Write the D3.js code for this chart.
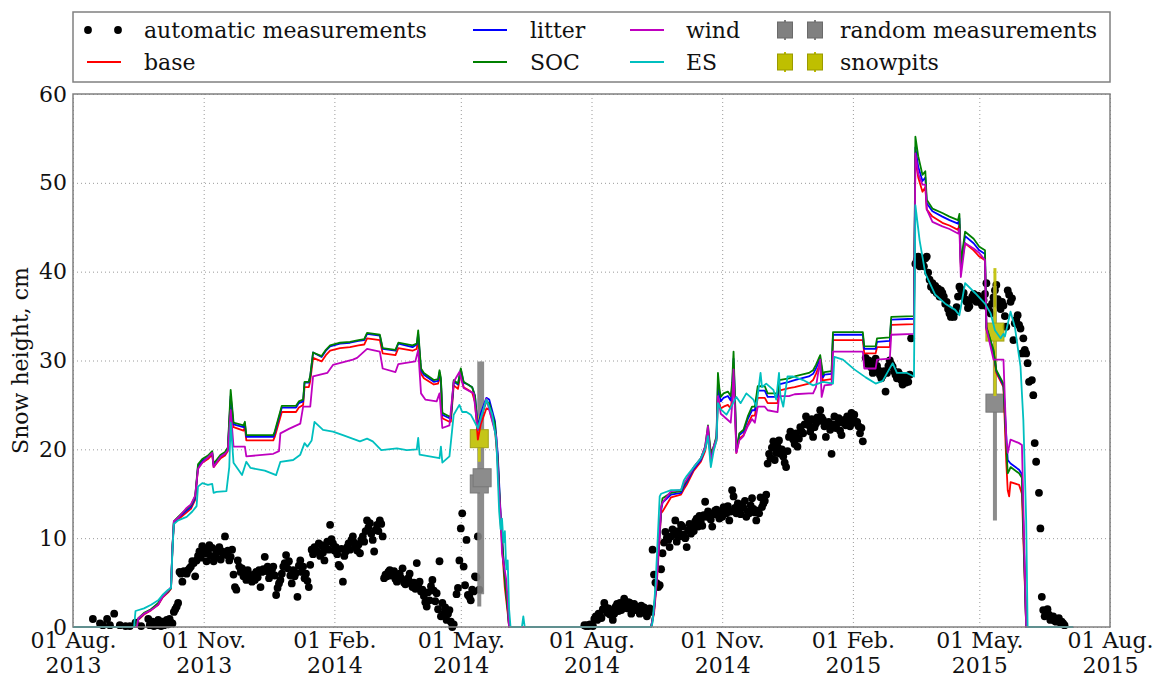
<!DOCTYPE html>
<html><head><meta charset="utf-8">
<script src="https://cdn.jsdelivr.net/npm/d3@7"></script>
<style>body{margin:0;background:#fff}</style>
</head><body><svg id="c" width="1155" height="678"></svg>
<script>
const _ = null;
// ---------- DATA ----------
const startDate = "2013-08-01";   // day 0 of all day offsets below
const xTickDates = ["2013-08-01","2013-11-01","2014-02-01","2014-05-01","2014-08-01","2014-11-01","2015-02-01","2015-05-01","2015-08-01"];
const xTickLabels = [["01 Aug.","2013"],["01 Nov.","2013"],["01 Feb.","2014"],["01 May.","2014"],["01 Aug.","2014"],["01 Nov.","2014"],["01 Feb.","2015"],["01 May.","2015"],["01 Aug.","2015"]];
const yTicks = [0,10,20,30,40,50,60];

// model runs: shared breakpoint days (offsets from startDate) for base / litter / SOC
const modelDays = [
 0,44,46,50,55,60,63,67,69,70, 71,74,80,83,86,88,91,95,98,99, 101,104,107,109,111,113,120,121,122,
 141,142,147,157,159,162,163,166,167,169, 175,178,181,188,195,201,205,207,216,218,
 227,229,239,242,243,245,247,254,257,258,259,260, 265,266,268,271,273,275,278,281,283,
 285,287,291,293,295,297,299,301,303,304, 306,307,
 407,409,411,414,415,421,428,430,432,437, 442,445,447,449,451,453,454,455,456,458,
 461,463,464,465,466,467,469,472,475,478, 480,482,487,489,496,497,504,508,518,521,
 523,526,528,529,534,535,556,557,565,566, 575,576,592,593,595,598,600,601,605,612,
 617,623,624,625,628,634,638,642,643,648, 650,655,657,658,659,660,666,668,671,704];
const base = [
 0,0,0.8,1.4,1.9,2.5,3.3,3.9,4.3,8.8, 11.7,12.1,12.9,13.3,14.3,17.9,18.5,18.9,19.4,18.0, 18.4,19.0,19.3,19.8,25.6,22.5,22.1,22.5,21.0,
 21.0,21.4,24.2,24.2,24.7,25.0,27.0,27.0,27.7,30.3, 29.9,30.6,31.1,31.4,31.5,31.7,31.8,32.5,32.3,30.8,
 30.6,31.4,31.1,31.3,32.6,28.5,28.0,27.3,27.4,28.3,27.5,23.5, 23.1,23.1,27.2,26.8,28.6,27.0,26.7,26.4,25.3,
 21.1,22.8,24.6,24.5,23.4,22.3,18.5,11.8,6.7,4.4, 1.6,0,
 0,1.5,5.0,12.8,13.0,14.6,14.9,15.5,16.0,17.6, 18.6,19.8,21.6,19.2,20.0,21.0,25.9,25.2,24.6,24.8,
 25.0,24.6,25.8,28.6,25.0,19.6,21.2,21.6,22.8,23.8, 23.8,25.8,25.8,25.2,25.2,26.6,26.9,27.0,27.4,27.8,
 28.5,29.7,27.6,27.8,27.9,32.3,32.3,30.8,30.8,31.5, 31.5,34.0,34.1,53.0,50.6,49.0,49.5,47.0,46.2,45.5,
 45.2,44.7,45.3,40.5,43.2,42.4,41.7,41.3,33.5,30.8, 28.6,27.0,18.5,15.4,14.7,16.3,16.0,15.0,0,0];
const litter = [
 0,0,0.9,1.5,2.0,2.6,3.4,4.0,4.4,8.9, 11.8,12.3,13.1,13.5,14.5,18.1,18.7,19.1,19.6,18.2, 18.6,19.2,19.5,20.0,26.0,22.8,22.5,22.9,21.4,
 21.4,21.8,24.7,24.7,25.2,25.4,27.5,27.5,28.2,30.9, 30.4,31.1,31.6,31.9,32.0,32.2,32.3,33.0,32.8,31.3,
 31.1,31.9,31.5,31.8,33.0,28.9,28.4,27.6,27.7,28.7,27.8,23.9, 23.5,23.5,27.6,27.3,29.0,27.5,27.3,27.0,26.0,
 22.5,24.0,25.8,25.6,24.4,23.2,19.5,12.8,7.8,5.6, 2.2,0,
 0,1.8,5.6,13.1,14.0,14.9,15.1,15.8,16.3,17.8, 18.8,20.1,22.2,19.4,20.2,21.3,27.5,26.2,25.4,25.8,
 26.0,25.5,26.8,30.2,25.6,19.8,21.6,22.0,23.4,24.4, 24.4,26.6,26.6,25.9,25.9,27.3,27.6,27.8,28.2,28.5,
 29.1,30.2,28.1,28.4,28.5,32.9,32.9,31.3,31.3,32.1, 32.2,34.6,34.7,54.0,51.8,50.2,50.6,47.7,46.8,46.2,
 45.8,45.4,46.0,40.8,44.0,43.2,42.4,42.0,33.7,31.0, 28.8,27.2,21.5,18.8,18.6,18.4,17.7,17.2,0,0];
const soc = [
 0,0,1.0,1.6,2.0,2.7,3.5,4.0,4.4,9.0, 11.9,12.4,13.3,13.7,14.7,18.3,18.9,19.3,19.8,18.4, 18.8,19.4,19.7,20.2,26.7,23.0,22.7,23.1,21.6,
 21.6,22.0,24.9,24.9,25.4,25.6,27.6,27.6,28.3,30.9, 30.5,31.2,31.7,32.0,32.1,32.3,32.4,33.1,32.9,31.4,
 31.2,32.0,31.7,31.9,33.4,29.1,28.6,27.8,27.9,28.9,28.0,24.1, 23.7,23.7,27.8,27.4,29.1,27.6,27.3,27.0,26.0,
 22.2,23.5,25.4,25.2,24.0,22.9,19.0,12.4,7.5,5.3, 2.0,0,
 0,2.0,6.0,13.4,14.5,15.1,15.3,16.0,16.5,18.0, 19.0,20.3,22.7,19.6,20.3,21.5,28.6,26.9,25.9,26.3,
 26.5,26.0,27.5,31.0,26.0,19.9,21.8,22.2,23.7,24.8, 24.8,27.1,27.1,26.3,26.3,27.8,28.0,28.2,28.6,28.9,
 29.5,30.6,28.4,28.7,28.8,33.2,33.2,31.6,31.6,32.5, 32.6,34.9,35.0,55.2,53.0,50.9,51.3,48.1,47.1,46.6,
 46.2,45.8,46.5,41.0,44.5,43.7,42.8,42.4,33.8,31.2, 28.9,27.4,20.3,17.3,17.6,18.0,17.3,16.8,0,0];

// wind run: [day, cm]
const wind = [
 [0,0],[45,0],[46,1.0],[50,1.5],[55,1.9],[60,2.5],[63,3.4],[67,4.1],[69,4.5],[70,9.0],
 [71,11.9],[74,12.3],[80,13.4],[83,13.8],[86,14.8],[88,17.8],[91,18.5],[95,19.1],[98,19.6],[99,18.0],
 [101,18.5],[104,19.2],[107,19.5],[109,19.9],[111,24.4],[113,20.3],[121,20.3],[122,19.2],
 [141,19.5],[145,19.8],[146,21.8],[152,22.3],[160,22.9],[162,24.8],[167,24.8],[169,28.2],[179,28.6],
 [183,29.5],[197,30.1],[200,30.3],[207,31.3],[216,31.0],[218,29.1],[227,28.7],[229,29.6],[241,29.9],[243,31.2],
 [245,26.3],[248,25.6],[256,25.4],[258,26.3],[260,22.4],[265,22.7],[268,27.6],[272,28.7],[275,26.9],[282,26.3],
 [285,22.2],[291,25.7],[298,21.4],[300,15.0],[301,12.8],[302,8.3],[305,5.3],[306,3.0],[307,0],
 [407,0],[409,1.8],[411,5.5],[414,13.5],[415,14.0],[421,15.3],[428,15.4],[430,16.2],[432,16.6],[437,18.0],
 [442,19.0],[445,20.3],[447,22.6],[449,18.5],[451,20.3],[453,21.2],[454,26.0],[455,25.0],[456,24.0],[461,23.3],
 [463,23.0],[464,25.0],[465,29.0],[466,24.0],[467,19.6],[469,21.0],[472,21.5],[475,22.6],[478,23.4],[480,23.0],
 [482,24.8],[487,24.8],[489,24.4],[496,24.2],[497,26.0],[504,26.0],[508,26.2],[518,26.3],[521,26.3],[523,27.0],
 [526,30.1],[527,25.9],[529,27.2],[534,27.3],[535,31.0],[556,31.0],[557,29.1],[565,29.1],[566,30.1],[575,30.2],
 [576,32.9],[592,33.0],[593,53.3],[595,51.0],[598,49.8],[600,49.8],[601,47.0],[605,45.6],[612,45.1],[617,44.8],
 [623,44.3],[624,44.8],[625,39.4],[628,43.2],[634,42.6],[638,42.1],[642,41.3],[643,33.6],[648,30.1],[655,30.1],
 [657,21.1],[658,19.6],[660,21.1],[666,20.7],[668,20.5],[671,0],[704,0]];

// ES run: [day, cm]
const es = [
 [0,0],[43,0],[44,1.8],[50,2.1],[55,2.5],[60,3.0],[63,3.6],[67,4.2],[69,4.4],[70,8.6],
 [71,11.6],[74,12.0],[80,12.4],[84,13.0],[87,13.6],[88,15.8],[91,16.2],[95,16.0],[98,16.1],[99,15.1],
 [101,15.2],[108,15.3],[110,18.0],[111,23.0],[113,18.5],[119,17.1],[122,18.6],[125,17.9],[135,17.6],[143,17.1],
 [146,18.6],[155,18.8],[160,19.4],[163,20.7],[165,20.3],[168,21.0],[170,23.1],[176,22.2],[183,22.0],[190,21.6],
 [202,20.9],[207,21.2],[211,20.9],[217,19.9],[228,20.1],[235,19.9],[242,20.0],[243,21.3],[244,19.4],[258,19.0],
 [259,20.3],[260,18.5],[265,19.2],[268,23.9],[272,25.0],[274,24.2],[277,24.2],[280,23.9],[285,22.4],[291,25.6],
 [295,24.0],[298,21.0],[300,13.0],[301,11.0],[302,12.2],[303,9.5],[304,10.8],[305,6.5],[306,7.5],[307,2.0],
 [308,0],[316,0],[317,1.2],[318,0],
 [407,0],[408,0.5],[410,4.5],[413,14.7],[414,15.0],[421,15.4],[428,15.4],[430,16.5],[432,17.0],[437,18.0],
 [442,19.0],[445,20.0],[447,21.5],[449,18.0],[451,19.8],[453,21.0],[454,25.2],[456,24.5],[460,23.9],[464,25.0],
 [467,25.9],[470,25.2],[474,26.3],[479,25.6],[481,24.8],[484,28.6],[485,27.0],[488,27.4],[493,26.7],[495,25.6],
 [497,28.6],[498,26.0],[500,24.8],[503,28.2],[507,28.2],[514,27.8],[521,27.2],[528,27.6],[535,27.4],[536,30.4],
 [542,30.1],[550,29.0],[558,28.1],[565,27.4],[570,27.7],[577,29.7],[580,28.6],[587,28.6],[592,28.2],[593,47.5],
 [596,43.5],[600,39.8],[607,37.4],[614,36.4],[621,35.7],[624,35.1],[628,38.7],[635,37.6],[642,36.4],[646,35.3],
 [649,33.4],[653,32.5],[655,33.0],[656,32.7],[660,35.5],[663,33.8],[667,29.3],[669,23.3],[671,12.0],[672,0],[704,0]];

// automatic measurements, daily values (cm), first value on day autoStart1 / autoStart2
const autoStart1 = 10;
const auto1 = [
/*10*/ _,_,_,_,0.9,_,_,_,_,0.4,
/*20*/ _,0.2,_,_,0.9,_,0.2,_,_,1.5,
/*30*/ _,_,_,0.2,_,_,_,0.1,_,_,
/*40*/ 0.1,_,_,_,0.5,_,_,_,0.1,_,
/*50*/ _,_,_,0.9,0.2,0.3,0.6,0.1,0.4,0.2,
/*60*/ 0.8,0.3,0.1,0.6,0.2,0.4,0.8,0.3,0.9,0.5,
/*70*/ 0.4,1.7,2.0,2.3,2.7,6.2,6.0,5.1,6.3,6.2,
/*80*/ 6.0,6.4,6.6,6.8,7.4,7.2,5.7,7.5,8.0,8.5,
/*90*/ 7.8,9.1,8.8,8.3,7.4,8.6,9.2,8.0,8.9,7.4,
/*100*/ 7.9,8.3,8.7,9.0,7.6,8.5,8.2,10.2,8.1,8.6,
/*110*/ 7.5,7.9,8.7,5.9,4.5,4.2,7.5,6.8,6.2,6.6,
/*120*/ 5.7,6.0,5.3,6.4,5.8,5.6,5.1,5.9,5.3,6.2,
/*130*/ 5.6,6.4,4.5,6.2,6.5,7.9,6.3,6.8,5.5,6.0,
/*140*/ 6.4,6.8,5.8,3.6,4.4,4.9,5.3,6.0,6.8,7.2,
/*150*/ 8.1,6.6,7.4,5.8,4.9,6.4,5.7,6.1,3.4,6.9,
/*160*/ 7.5,6.2,6.8,5.5,6.0,5.2,4.5,7.0,8.7,8.2,
/*170*/ 9.0,8.6,8.5,9.4,8.0,9.2,8.4,7.5,8.9,9.6,
/*180*/ 8.7,11.5,9.9,9.4,8.6,9.0,8.2,7.0,6.8,8.8,
/*190*/ 5.1,8.0,8.5,9.0,9.4,8.7,9.8,10.2,9.5,9.0,
/*200*/ 8.6,9.3,8.3,9.8,10.2,9.6,10.8,12.0,11.2,11.7,
/*210*/ 10.5,9.8,8.5,10.9,11.5,10.8,12.0,11.6,10.2,5.5,
/*220*/ 5.9,5.7,6.2,6.4,5.8,5.9,6.3,5.4,5.1,5.6,
/*230*/ 6.0,5.5,6.6,5.0,4.8,5.3,5.5,6.0,4.9,4.5,
/*240*/ 5.0,4.3,7.2,4.6,5.1,4.0,4.2,3.5,2.8,2.3,
/*250*/ 3.9,3.0,4.6,5.3,4.1,2.9,3.8,2.0,7.4,1.2,
/*260*/ 2.7,1.5,2.2,0.8,1.5,1.9,0.6,0.0,0.3,_,
/*270*/ 3.7,4.4,7.5,11.1,12.8,6.8,4.7,9.8,3.6,3.4,
/*280*/ 3.0,4.2,4.0,5.7,5.6,10.2,4.2];
const autoStart2 = 360;
const auto2 = [
/*360*/ 0.2,0.1,0.2,0.1,0.3,0.2,0.1,0.9,1.2,0.8,
/*370*/ 1.5,1.3,1.0,2.0,2.7,2.2,1.6,2.1,1.4,1.8,
/*380*/ 0.8,1.5,2.3,2.6,1.8,2.7,1.9,2.4,3.2,2.5,
/*390*/ 2.1,2.8,2.7,1.5,2.2,2.6,1.9,2.3,2.0,1.5,
/*400*/ 2.4,1.9,2.2,1.6,1.2,1.8,2.1,1.7,8.7,5.9,
/*410*/ 5.0,4.9,4.5,4.7,6.5,8.3,9.5,10.7,10.0,9.8,
/*420*/ 9.0,10.2,11.0,10.4,12.0,9.6,10.8,10.2,11.5,11.3,
/*430*/ 10.4,10.0,9.0,10.9,11.6,10.5,11.2,10.8,11.9,12.2,
/*440*/ 11.3,12.5,12.0,11.4,12.6,14.1,12.4,13.0,12.8,12.1,
/*450*/ 11.3,12.7,13.1,13.2,12.6,12.2,13.0,12.4,13.5,12.9,
/*460*/ 12.8,13.6,12.0,13.0,15.4,14.7,13.4,12.8,13.9,13.2,
/*470*/ 12.7,13.8,13.4,14.2,12.4,13.0,12.8,13.7,14.5,13.3,
/*480*/ 12.9,12.0,13.1,12.8,14.6,13.5,13.9,14.2,14.9,18.4,
/*490*/ 19.5,19.0,20.2,20.9,18.8,19.6,20.3,21.0,19.5,20.0,
/*500*/ 19.2,18.5,18.0,19.8,21.4,22.0,21.5,21.1,20.6,21.8,
/*510*/ 20.3,21.2,22.5,22.0,21.8,22.8,23.7,23.0,22.7,22.0,
/*520*/ 23.4,21.4,22.5,22.9,23.6,23.2,24.4,23.6,23.3,22.6,
/*530*/ 21.4,22.8,23.1,22.2,19.5,22.8,23.7,22.4,22.9,23.5,
/*540*/ 22.1,21.6,23.0,23.3,22.7,23.7,23.2,22.6,24.1,23.4,
/*550*/ 23.9,23.0,23.1,22.6,21.8,22.4,20.9,_,30.3,29.6,
/*560*/ 30.0,29.9,29.2,28.6,29.5,30.2,29.4,28.9,28.4,28.0,
/*570*/ 28.3,28.8,26.5,28.6,29.4,30.0,29.6,29.3,28.8,28.4,
/*580*/ 28.0,28.7,28.4,27.8,27.3,28.2,27.5,27.9,27.6,28.4,
/*590*/ 32.5,_,_,40.9,41.3,41.7,40.6,41.3,41.1,40.6,
/*600*/ 41.5,41.7,39.9,39.1,38.3,38.7,37.9,38.4,37.6,38.1,
/*610*/ 37.2,37.9,37.6,37.2,36.4,36.6,35.8,35.3,34.9,35.3,
/*620*/ 34.9,35.5,36.0,37.2,38.3,38.0,37.4,37.6,36.9,36.6,
/*630*/ 35.9,36.1,36.8,37.2,37.5,36.9,36.6,37.3,37.0,36.5,
/*640*/ 36.2,36.8,37.5,38.7,36.0,35.6,35.3,36.4,37.1,37.9,
/*650*/ 38.5,36.9,36.2,35.8,36.6,36.2,35.0,33.8,37.9,37.4,
/*660*/ 36.6,37.0,32.3,34.2,34.6,35.1,34.0,33.6,30.8,32.5,
/*670*/ 31.2,30.8,29.7,27.6,_,27.8,26.1,20.7,18.6,_,
/*680*/ 15.1,11.1,3.4,1.9,1.2,1.7,2.0,1.4,0.8,1.0,
/*690*/ 1.2,0.7,0.6,0.9,1.0,0.5,0.6,0.4,0.2];

// random measurements and snowpits: day, mean (cm), error (cm)
const randomDays = [286, 288, 649];
const randomCm   = [16.1, 16.8, 25.2];
const randomErr  = [13.8, 13.1, 13.2];
const pitDays = [286, 649];
const pitCm   = [21.2, 33.2];
const pitErr  = [2.6, 7.2];

const legendLabels = ["automatic measurements","base","litter","SOC","wind","ES","random measurements","snowpits"];

// ---------- DRAW ----------
const FONT = "'DejaVu Serif', serif";
const L = 73, R = 1110, T = 94, B = 627;
const t0 = new Date(startDate + "T00:00:00Z");
const day = d => d3.utcDay.offset(t0, d);
const x = d3.scaleUtc().domain([new Date(xTickDates[0]+"T00:00:00Z"), new Date(xTickDates[xTickDates.length-1]+"T00:00:00Z")]).range([L, R]);
const y = d3.scaleLinear().domain([0, 60]).range([B, T]);
const xTicks = xTickDates.map(s => new Date(s + "T00:00:00Z"));

const svg = d3.select("#c");
const COL = {base:"#ff0000", litter:"#0000ff", soc:"#008000", wind:"#bf00bf", es:"#00bfbf", gray:"#808080", pit:"#bfbf00"};

// grid
const gridX = svg.append("g").attr("transform", `translate(0,${B})`)
  .call(d3.axisBottom(x).tickValues(xTicks).tickSize(-(B - T)).tickFormat(""));
const gridY = svg.append("g").attr("transform", `translate(${L},0)`)
  .call(d3.axisLeft(y).tickValues(yTicks).tickSize(-(R - L)).tickFormat(""));
[gridX, gridY].forEach(g => {
  g.select(".domain").remove();
  g.selectAll(".tick line").attr("stroke", "#9a9a9a").attr("stroke-width", 1).attr("stroke-dasharray", "1,3");
});

// axis labels
const ax = svg.append("g").attr("transform", `translate(0,${B})`)
  .call(d3.axisBottom(x).tickValues(xTicks).tickSize(0).tickFormat(""));
ax.select(".domain").remove();
ax.selectAll(".tick text").each(function(d, i) {
  const t = d3.select(this).attr("dy", null).attr("y", null)
    .attr("font-family", FONT).attr("font-size", 22).attr("fill", "#111");
  t.append("tspan").attr("x", 0).attr("y", 21).text(xTickLabels[i][0]);
  t.append("tspan").attr("x", 0).attr("y", 46).text(xTickLabels[i][1]);
});
const ay = svg.append("g").attr("transform", `translate(${L},0)`)
  .call(d3.axisLeft(y).tickValues(yTicks).tickSize(0).tickPadding(6).tickFormat(d3.format("d")));
ay.select(".domain").remove();
ay.selectAll(".tick text").attr("font-family", FONT).attr("font-size", 22).attr("fill", "#111");

svg.append("text").attr("transform", `translate(28,${(T + B) / 2}) rotate(-90)`)
  .attr("text-anchor", "middle").attr("font-family", FONT).attr("font-size", 22).attr("fill", "#111")
  .text("Snow height, cm");

// automatic measurements
const autoPts = [];
auto1.forEach((v, i) => { if (v != null) autoPts.push([autoStart1 + i, v]); });
auto2.forEach((v, i) => { if (v != null) autoPts.push([autoStart2 + i, v]); });
svg.append("g").selectAll("circle").data(autoPts).join("circle")
  .attr("cx", d => x(day(d[0]))).attr("cy", d => y(d[1])).attr("r", 3.9).attr("fill", "#000");

// error-bar markers
function marker(g, dd, cm, err, color, edge) {
  const cx = x(day(dd));
  g.append("line").attr("x1", cx).attr("x2", cx).attr("y1", y(cm - err)).attr("y2", y(cm + err))
    .attr("stroke", color).attr("stroke-width", color === COL.gray ? 4 : 3);
  g.append("rect").attr("x", cx - 9).attr("y", y(cm) - 9).attr("width", 18).attr("height", 18)
    .attr("fill", color).attr("stroke", edge).attr("stroke-width", 1);
}
const mg = svg.append("g").attr("opacity", 0.9);
randomDays.forEach((d, i) => marker(mg, d, randomCm[i], randomErr[i], COL.gray, "#6a6a6a"));
pitDays.forEach((d, i) => marker(mg, d, pitCm[i], pitErr[i], COL.pit, "#9a9a00"));

// model lines
const line = d3.line().x(d => x(day(d[0]))).y(d => y(d[1]));
const zipDays = vals => modelDays.map((d, i) => [d, vals[i]]);
const series = [[zipDays(base), COL.base], [zipDays(litter), COL.litter], [zipDays(soc), COL.soc], [wind, COL.wind], [es, COL.es]];
series.forEach(([data, c]) => {
  svg.append("path").attr("d", line(data)).attr("fill", "none").attr("stroke", c)
    .attr("stroke-width", 1.8).attr("stroke-linejoin", "round");
});

// frame
svg.append("rect").attr("x", L).attr("y", T).attr("width", R - L).attr("height", B - T)
  .attr("fill", "none").attr("stroke", "#808080").attr("stroke-width", 1.5);

// legend
const lg = svg.append("g");
lg.append("rect").attr("x", 73).attr("y", 12).attr("width", 1037).attr("height", 70)
  .attr("fill", "#fff").attr("stroke", "#808080").attr("stroke-width", 1.5);
const row = [30, 62];
const txt = (xx, yy, s) => lg.append("text").attr("x", xx).attr("y", yy + 7.5)
  .attr("font-family", FONT).attr("font-size", 22).attr("fill", "#111").text(s);
// col 1
[88, 118].forEach(cx => lg.append("circle").attr("cx", cx).attr("cy", row[0]).attr("r", 3.9).attr("fill", "#000"));
txt(144, row[0], legendLabels[0]);
lg.append("line").attr("x1", 87).attr("x2", 121).attr("y1", row[1]).attr("y2", row[1]).attr("stroke", COL.base).attr("stroke-width", 1.8);
txt(144, row[1], legendLabels[1]);
// col 2
lg.append("line").attr("x1", 473).attr("x2", 507).attr("y1", row[0]).attr("y2", row[0]).attr("stroke", COL.litter).attr("stroke-width", 1.8);
txt(530, row[0], legendLabels[2]);
lg.append("line").attr("x1", 473).attr("x2", 507).attr("y1", row[1]).attr("y2", row[1]).attr("stroke", COL.soc).attr("stroke-width", 1.8);
txt(530, row[1], legendLabels[3]);
// col 3
lg.append("line").attr("x1", 630).attr("x2", 664).attr("y1", row[0]).attr("y2", row[0]).attr("stroke", COL.wind).attr("stroke-width", 1.8);
txt(686, row[0], legendLabels[4]);
lg.append("line").attr("x1", 630).attr("x2", 664).attr("y1", row[1]).attr("y2", row[1]).attr("stroke", COL.es).attr("stroke-width", 1.8);
txt(686, row[1], legendLabels[5]);
// col 4
[[row[0], COL.gray, "#6a6a6a"], [row[1], COL.pit, "#9a9a00"]].forEach(([yy, c, e]) => {
  [785, 815].forEach(cx => {
    lg.append("line").attr("x1", cx).attr("x2", cx).attr("y1", yy - 10).attr("y2", yy + 10).attr("stroke", c).attr("stroke-width", 2);
    lg.append("rect").attr("x", cx - 7.5).attr("y", yy - 8).attr("width", 15).attr("height", 16).attr("fill", c).attr("stroke", e).attr("stroke-width", 1);
  });
});
txt(840, row[0], legendLabels[6]);
txt(840, row[1], legendLabels[7]);
</script></body></html>
